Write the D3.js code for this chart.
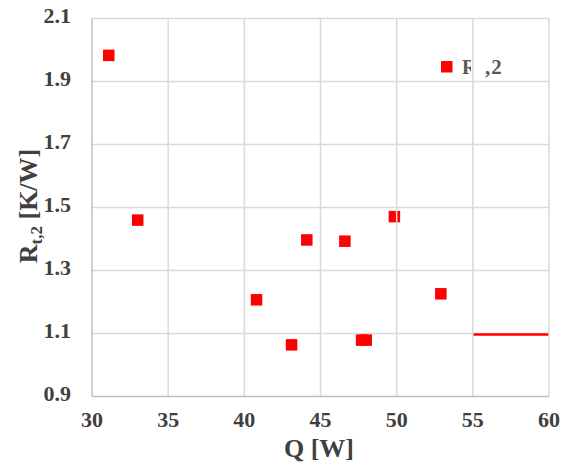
<!DOCTYPE html>
<html>
<head>
<meta charset="utf-8">
<script src="https://cdn.jsdelivr.net/npm/d3@7"></script>
<style>
  body { margin: 0; background: #fff; }
  text { font-family: "Liberation Serif", "Times New Roman", serif; font-weight: bold; }
</style>
</head>
<body>
<div id="chart"></div>
<script>
// measured points (Q [W], Rt,2 [K/W])
const qValues = [31.1, 33.0, 40.8, 43.1, 44.1, 46.6, 47.7, 48.0, 49.85, 52.9]
const rValues = [1.983, 1.46, 1.207, 1.064, 1.397, 1.393, 1.079, 1.079, 1.471, 1.226]
// red horizontal segment in the lower right
const lineQ = [55, 60]
const lineR = [1.097, 1.097]
const xTicks = [30, 35, 40, 45, 50, 55, 60]
const yTicks = [0.9, 1.1, 1.3, 1.5, 1.7, 1.9, 2.1]

const width = 561, height = 471
const margin = {top: 18.5, right: 12, bottom: 74.5, left: 92}
const innerW = width - margin.left - margin.right
const innerH = height - margin.top - margin.bottom

const svg = d3.select('#chart').append('svg')
    .attr('width', width)
    .attr('height', height)

const g = svg.append('g')
    .attr('transform', 'translate(' + margin.left + ',' + margin.top + ')')

const x = d3.scaleLinear().domain([30, 60]).range([0, innerW])
const y = d3.scaleLinear().domain([0.9, 2.1]).range([innerH, 0])

// horizontal gridlines
g.selectAll('line.hgrid')
    .data(yTicks.slice(1))
    .enter().append('line')
    .attr('class', 'hgrid')
    .attr('x1', 0).attr('x2', innerW)
    .attr('y1', d => y(d)).attr('y2', d => y(d))
    .attr('stroke', '#d9d9d9').attr('stroke-width', 1.5)

// tick labels
g.selectAll('text.xtick')
    .data(xTicks)
    .enter().append('text')
    .attr('class', 'xtick')
    .attr('x', d => x(d))
    .attr('y', innerH + 30)
    .attr('text-anchor', 'middle')
    .attr('font-size', 22)
    .attr('fill', '#404040')
    .text(d => d)

g.selectAll('text.ytick')
    .data(yTicks)
    .enter().append('text')
    .attr('class', 'ytick')
    .attr('x', -21)
    .attr('y', d => y(d) + 4)
    .attr('text-anchor', 'end')
    .attr('font-size', 22)
    .attr('fill', '#404040')
    .text(d => d.toFixed(1))

// red segment
const line = d3.line().x(d => x(d[0])).y(d => y(d[1]))
g.append('path')
    .datum(d3.zip(lineQ, lineR))
    .attr('d', line)
    .attr('fill', 'none')
    .attr('stroke', '#ff0000')
    .attr('stroke-width', 2.5)

// markers
const ms = 11.5
g.selectAll('rect.pt')
    .data(d3.zip(qValues, rValues))
    .enter().append('rect')
    .attr('class', 'pt')
    .attr('x', d => x(d[0]) - ms / 2)
    .attr('y', d => y(d[1]) - ms / 2)
    .attr('width', ms).attr('height', ms)
    .attr('fill', '#ff0000')

// legend (label partly hidden behind the plot, as in the source)
svg.append('clipPath').attr('id', 'legclip')
    .append('rect').attr('x', 0).attr('y', 0).attr('width', 471).attr('height', height)
svg.append('rect')
    .attr('x', 441).attr('y', 61).attr('width', 11.5).attr('height', 11.5)
    .attr('fill', '#ff0000')
svg.append('text')
    .attr('x', 462).attr('y', 73.5)
    .attr('font-size', 20).attr('fill', '#595959')
    .attr('clip-path', 'url(#legclip)')
    .text('R')
svg.append('text')
    .attr('x', 485).attr('y', 74)
    .attr('font-size', 21).attr('fill', '#595959')
    .attr('letter-spacing', 1)
    .text(',2')

// vertical gridlines sit over the marks in the source
g.selectAll('line.vgrid')
    .data(xTicks.slice(1))
    .enter().append('line')
    .attr('class', 'vgrid')
    .attr('x1', d => x(d)).attr('x2', d => x(d))
    .attr('y1', 0).attr('y2', innerH)
    .attr('stroke', '#d9d9d9').attr('stroke-width', 1.5)

// axes lines
g.append('line')
    .attr('x1', 0).attr('x2', 0).attr('y1', 0).attr('y2', innerH)
    .attr('stroke', '#bfbfbf').attr('stroke-width', 1.5)
g.append('line')
    .attr('x1', 0).attr('x2', innerW).attr('y1', innerH).attr('y2', innerH)
    .attr('stroke', '#bfbfbf').attr('stroke-width', 1.5)

// axis titles
svg.append('text')
    .attr('x', 319).attr('y', 457)
    .attr('text-anchor', 'middle')
    .attr('font-size', 26).attr('fill', '#404040')
    .text('Q [W]')

const yt = svg.append('text')
    .attr('transform', 'translate(37,206) rotate(-90)')
    .attr('text-anchor', 'middle')
    .attr('font-size', 26).attr('fill', '#404040')
yt.append('tspan').text('R')
yt.append('tspan').attr('font-size', 17).attr('dy', 5).text('t,2')
yt.append('tspan').attr('dy', -5).text(' [K/W]')
</script>
</body>
</html>
